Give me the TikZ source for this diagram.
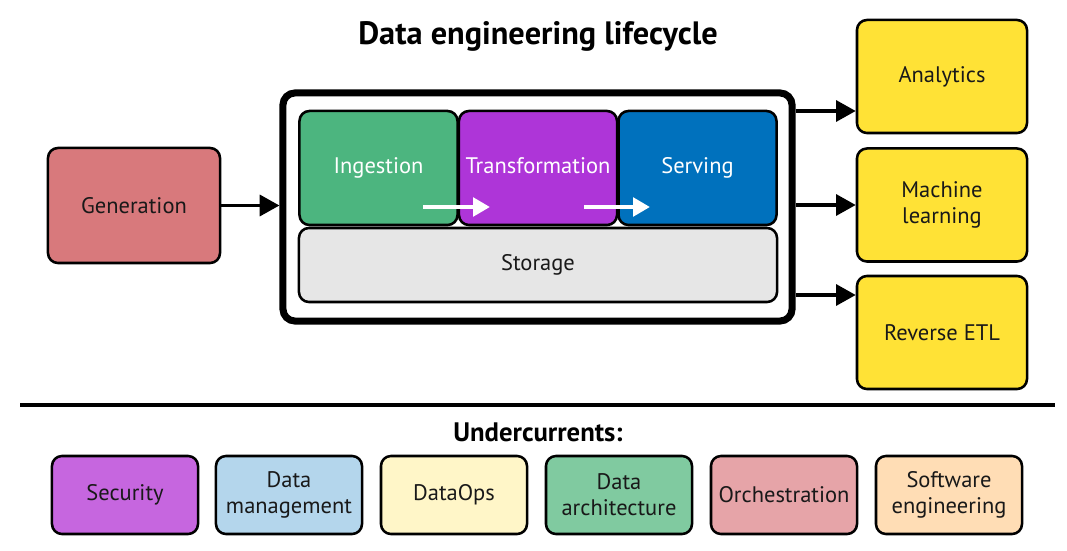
\documentclass[tikz,border=0pt]{standalone}
\usepackage{fontspec}
\setmainfont{PT Sans}
\usepackage{tikz}
\usetikzlibrary{arrows.meta}
\definecolor{genred}{HTML}{D8797C}
\definecolor{ingreen}{HTML}{4CB57F}
\definecolor{tfpurple}{HTML}{AE35D8}
\definecolor{svblue}{HTML}{0071BD}
\definecolor{stgray}{HTML}{E6E6E6}
\definecolor{outyellow}{HTML}{FFE236}
\definecolor{secpurple}{HTML}{C666DF}
\definecolor{dmblue}{HTML}{B4D6EC}
\definecolor{opsyellow}{HTML}{FFF6C8}
\definecolor{archgreen}{HTML}{80CAA0}
\definecolor{orchpink}{HTML}{E6A4A8}
\definecolor{swpeach}{HTML}{FFDDB5}
\tikzset{
  box/.style={draw=black,line width=1.8pt,rounded corners=0.25cm,align=center,
    font=\fontsize{16}{18.5}\selectfont,text=black!90,inner sep=0pt},
  stage/.style={box,minimum width=3.95cm,minimum height=2.85cm,text=white,
    text height=12pt,text depth=4pt},
  outbox/.style={box,fill=outyellow,minimum width=4.25cm,minimum height=2.825cm},
  undbox/.style={box,minimum width=3.65cm,minimum height=1.95cm},
  flow/.style={-{Triangle[length=14pt,width=15pt]},line width=2.2pt},
  wflow/.style={-{Triangle[length=12pt,width=13pt]},line width=3pt,white}
}
\begin{document}
\begin{tikzpicture}[x=0.025cm,y=-0.025cm]
\useasboundingbox (0,0) rectangle (1067,551);
% title
\node[font=\fontsize{23}{26}\selectfont\bfseries] (title) at (538,36) {Data engineering lifecycle};
% generation
\node[box,fill=genred,minimum width=4.3cm,minimum height=2.875cm] (gen) at (134,205.5) {Generation};
% lifecycle frame
\node[draw=black,line width=5pt,rounded corners=0.3cm,minimum width=12.725cm,minimum height=5.7cm] (frame) at (537.5,207) {};
\node[stage,fill=ingreen] (ing) at (378.5,168) {Ingestion};
\node[stage,fill=tfpurple] (trans) at (538,168) {Transformation};
\node[stage,fill=svblue] (serv) at (697.5,168) {Serving};
\node[box,fill=stgray,minimum width=11.95cm,minimum height=1.85cm] (stor) at (538,265) {Storage};
% white arrows
\coordinate (w1a) at (423,207);
\coordinate (w1b) at (490,207);
\coordinate (w2a) at (584,207);
\coordinate (w2b) at (650,207);
\draw[wflow] (w1a) -- (w1b);
\draw[wflow] (w2a) -- (w2b);
% outputs
\node[outbox] (ana) at (942,76.5) {Analytics};
\node[outbox] (ml) at (942,205) {Machine\\learning};
\node[outbox] (retl) at (942,332.5) {Reverse ETL};
\coordinate (o1) at (0,111);
\coordinate (o3) at (0,295);
\draw[flow] (gen.east) -- (frame.west |- gen.east);
\draw[flow] (frame.east |- o1) -- (ana.west |- o1);
\draw[flow] (frame.east |- ml) -- (ml.west);
\draw[flow] (frame.east |- o3) -- (retl.west |- o3);
% undercurrents
\coordinate (ruleL) at (20,405);
\coordinate (ruleR) at (1055,405);
\draw[line width=3pt] (ruleL) -- (ruleR);
\node[font=\fontsize{19}{22}\selectfont\bfseries] (und) at (538,432) {Undercurrents:};
\node[undbox,fill=secpurple] (sec) at (125,495) {Security};
\node[undbox,fill=dmblue] (dm) at (289,495) {Data\\management};
\node[undbox,fill=opsyellow] (ops) at (454,495) {DataOps};
\node[undbox,fill=archgreen] (arch) at (619,495) {Data\\architecture};
\node[undbox,fill=orchpink] (orch) at (784,495) {Orchestration};
\node[undbox,fill=swpeach] (sw) at (949,495) {Software\\engineering};
\end{tikzpicture}
\end{document}
